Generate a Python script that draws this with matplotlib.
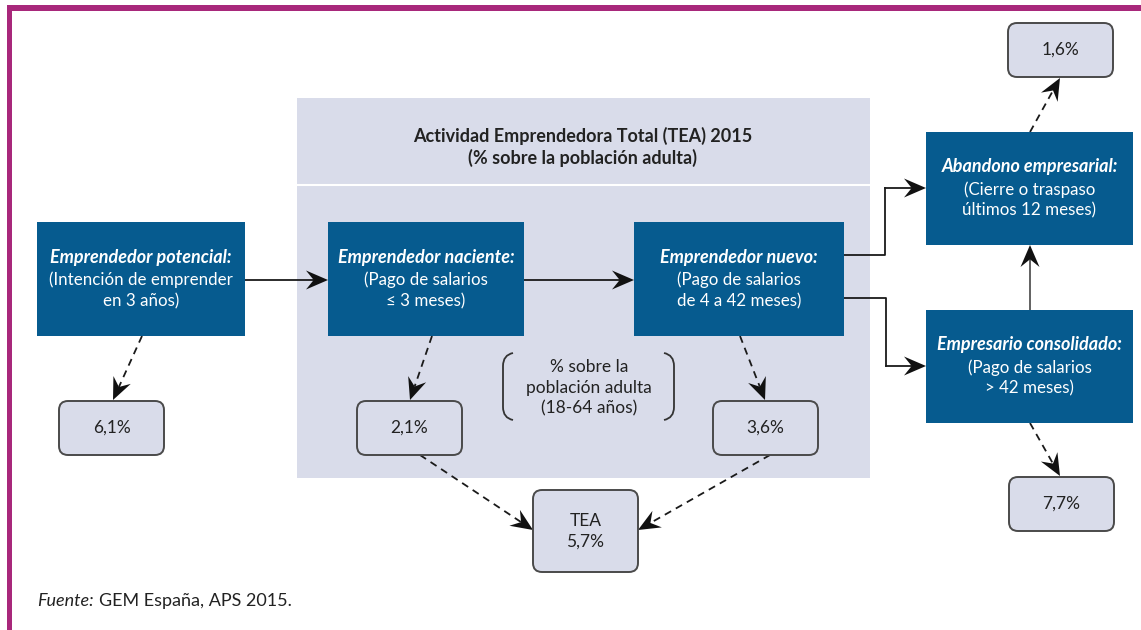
import numpy as np
import matplotlib.pyplot as plt
from matplotlib.patches import Rectangle, FancyBboxPatch, Polygon, PathPatch
from matplotlib.path import Path

# data
stage_titles = ["Emprendedor potencial:", "Emprendedor naciente:", "Emprendedor nuevo:",
                "Abandono empresarial:", "Empresario consolidado:"]
stage_notes = ["(Intención de emprender\nen 3 años)", "(Pago de salarios\n≤ 3 meses)",
               "(Pago de salarios\nde 4 a 42 meses)", "(Cierre o traspaso\núltimos 12 meses)",
               "(Pago de salarios\n> 42 meses)"]
stage_pct = [6.1, 2.1, 3.6, 1.6, 7.7]
tea_label = "TEA"
tea_pct = 5.7
panel_title = "Actividad Emprendedora Total (TEA) 2015\n(% sobre la población adulta)"
bracket_text = "% sobre la\npoblación adulta\n(18-64 años)"

BLUE = "#065b8f"
LIGHT = "#d9dcea"
EDGE = "#4a4a4a"
MAGENTA = "#a8287b"
TXT = "#222222"
FONT = ["Lato", "DejaVu Sans"]

# layout (pixel coords, y down): x0, y0, x1, y1
blue_boxes = [(37, 222, 245, 336), (328, 222, 524, 336), (634, 222, 844, 336),
              (926, 132, 1133, 245), (926, 310, 1133, 423)]
pct_boxes = [(59, 401, 164, 455), (357, 401, 462, 455), (713, 401, 818, 455),
             (1008, 23, 1113, 77), (1009, 477, 1114, 531)]
tea_box = (533, 490, 638, 572)

fig = plt.figure(figsize=(11.41, 6.30), dpi=100)
ax = fig.add_axes([0, 0, 1, 1])
ax.set_xlim(0, 1141)
ax.set_ylim(630, 0)
ax.axis("off")

# magenta frame
ax.add_patch(Rectangle((7, 5), 1141, 6, color=MAGENTA, lw=0))
ax.add_patch(Rectangle((7, 5), 5, 630, color=MAGENTA, lw=0))

# TEA panel
ax.add_patch(Rectangle((297, 98), 573, 380, color=LIGHT, lw=0, zorder=1))
ax.plot([297, 870], [185, 185], color="white", lw=1.5, zorder=1.5)
ax.text(583, 136, panel_title.split("\n")[0], ha="center", va="center", fontsize=13,
        fontweight="bold", color=TXT, family=FONT, zorder=3)
ax.text(583, 158, panel_title.split("\n")[1], ha="center", va="center", fontsize=13,
        fontweight="bold", color=TXT, family=FONT, zorder=3)


def fmt(v):
    return f"{v:.1f}".replace(".", ",") + "%"


def arrow(x0, y0, x1, y1, dashed=False, color="#1a1a1a", L=22, W=19):
    d = np.array([x1 - x0, y1 - y0], float)
    d /= np.hypot(*d)
    p = np.array([-d[1], d[0]])
    tip = np.array([x1, y1])
    base = tip - d * L
    notch = tip - d * L * 0.65
    ax.plot([x0, notch[0]], [y0, notch[1]], color=color, lw=1.3,
            ls=(0, (4, 3)) if dashed else "-", zorder=2)
    ax.add_patch(Polygon([tip, base + p * W / 2, notch, base - p * W / 2],
                         closed=True, color="#111111", lw=0, zorder=2.5))


def pct_box(b, label):
    x0, y0, x1, y1 = b
    ax.add_patch(FancyBboxPatch((x0, y0), x1 - x0, y1 - y0,
                                boxstyle="round,pad=0,rounding_size=9",
                                fc=LIGHT, ec=EDGE, lw=1.4, zorder=3))
    ax.text((x0 + x1) / 2, (y0 + y1) / 2, label, ha="center", va="center",
            fontsize=12.5, color=TXT, family=FONT, linespacing=1.35, zorder=4)


for b, t, n in zip(blue_boxes, stage_titles, stage_notes):
    x0, y0, x1, y1 = b
    ax.add_patch(Rectangle((x0, y0), x1 - x0, y1 - y0, fc=BLUE, ec="none", zorder=3))
    cx, cy = (x0 + x1) / 2, (y0 + y1) / 2
    ax.text(cx, cy - 22, t, ha="center", va="center", fontsize=13, fontweight="bold",
            style="italic", color="white", family=FONT, zorder=4)
    for i, line in enumerate(n.split("\n")):
        ax.text(cx, cy + 1 + 21 * i, line, ha="center", va="center", fontsize=12.2,
                color="white", family=FONT, zorder=4)

for b, v in zip(pct_boxes, stage_pct):
    pct_box(b, fmt(v))
pct_box(tea_box, tea_label + "\n" + fmt(tea_pct))

# solid flow arrows
arrow(245, 280, 328, 280)
arrow(524, 280, 634, 280)
ax.plot([844, 885, 885], [255, 255, 188], color="#1a1a1a", lw=1.3, zorder=2)
arrow(885, 188, 926, 188)
ax.plot([844, 886, 886], [298, 298, 366], color="#1a1a1a", lw=1.3, zorder=2)
arrow(886, 366, 926, 366)
arrow(1030, 310, 1030, 245, color="#555555")

# dashed arrows to percentages
arrow(142, 336, 113, 400, dashed=True)
arrow(432, 336, 410, 400, dashed=True)
arrow(740, 336, 765, 400, dashed=True)
arrow(1030, 132, 1060, 78, dashed=True)
arrow(1030, 423, 1060, 476, dashed=True)
arrow(420, 455, 533, 530, dashed=True)
arrow(770, 455, 638, 530, dashed=True)

# bracket note
for i, line in enumerate(bracket_text.split("\n")):
    ax.text(589, 367 + 20.5 * i, line, ha="center", va="center", fontsize=12.5,
            color=TXT, family=FONT, zorder=3)
for xe, xs in [(513, 503), (664, 674)]:
    verts = [(xe, 353), (xs, 355), (xs, 366), (xs, 407), (xs, 418), (xe, 420)]
    codes = [Path.MOVETO, Path.CURVE3, Path.CURVE3, Path.LINETO, Path.CURVE3, Path.CURVE3]
    ax.add_patch(PathPatch(Path(verts, codes), fc="none", ec="#333333", lw=1.3, zorder=3))

# source
t1 = ax.text(37, 601, "Fuente:", ha="left", va="center", fontsize=13, style="italic",
             color=TXT, family=FONT)
fig.canvas.draw()
bb = t1.get_window_extent().transformed(ax.transData.inverted())
ax.text(bb.x1 + 5, 601, "GEM España, APS 2015.", ha="left", va="center", fontsize=13,
        color=TXT, family=FONT)

fig.savefig("out.png", dpi=100)
